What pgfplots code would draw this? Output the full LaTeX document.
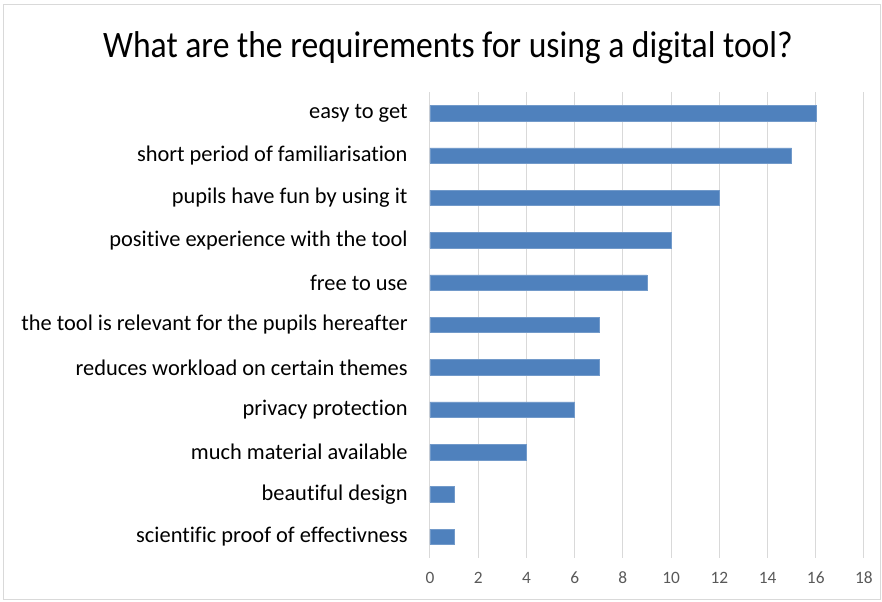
\documentclass[border=0pt]{standalone}
\usepackage{pgfplots}
\pgfplotsset{compat=1.18}
\usepackage{fontspec}
\setmainfont[Ligatures=NoCommon]{Carlito}
\definecolor{barblue}{HTML}{4F81BD}
\definecolor{gridgray}{HTML}{D9D9D9}
\definecolor{ticktext}{HTML}{595959}
\begin{document}
\begin{tikzpicture}
\begin{scope}[x=0.75pt,y=0.75pt]
\useasboundingbox (-430,-44) rectangle (452,558);
\draw[gridgray,line width=0.75pt] (-426,-42) rectangle (450,553);
\node[font=\fontsize{28}{32}\selectfont, xscale=0.9, inner sep=0pt] at (18,510) {What are the requirements for using a digital tool?};
\end{scope}
\begin{axis}[
  at={(0,0)}, anchor=south west,
  scale only axis,
  width=325.5pt, height=349.5pt,
  xbar, bar width=11.6pt,
  xmin=0, xmax=18, xtick distance=2,
  ymin=-0.5, ymax=10.5,
  ytick={0,...,10},
  yticklabels={scientific proof of effectivness, beautiful design, much material available, privacy protection, reduces workload on certain themes, the tool is relevant for the pupils hereafter, free to use, positive experience with the tool, pupils have fun by using it, short period of familiarisation, easy to get},
  yticklabel style={font=\fontsize{16.8}{19}\selectfont, text=black, xshift=-9pt},
  xticklabel style={font=\fontsize{13}{15}\selectfont, text=ticktext, yshift=-7pt},
  /pgf/number format/assume math mode=true,
  xmajorgrids, grid style={gridgray, line width=0.75pt},
  axis line style={draw=none},
  major tick style={draw=none},
]
\addplot[fill=barblue, draw=barblue!80!white] coordinates {
(1,0) (1,1) (4,2) (6,3) (7,4) (7,5) (9,6) (10,7) (12,8) (15,9) (16,10)
};
\end{axis}
\end{tikzpicture}
\end{document}
